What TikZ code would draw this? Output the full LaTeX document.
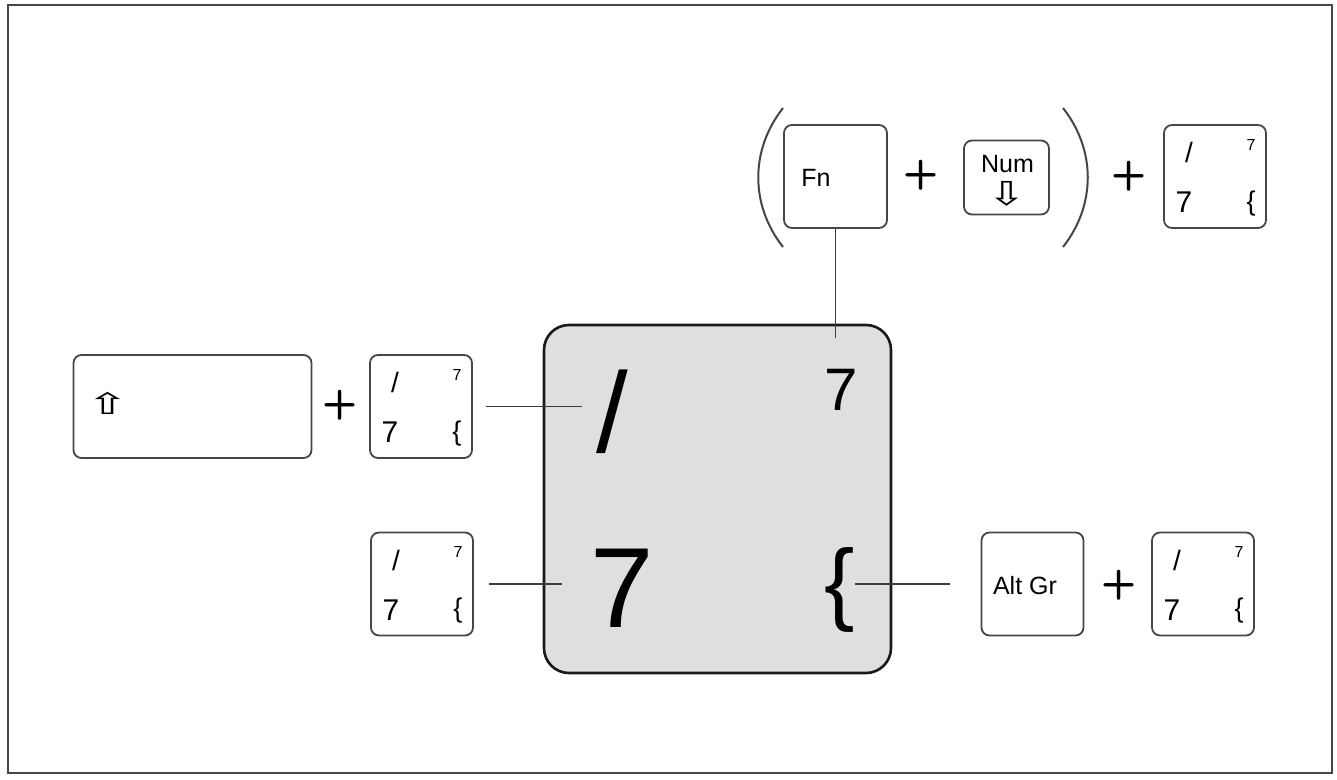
\documentclass[tikz,border=0pt]{standalone}
\usepackage{fontspec}
\setmainfont{Liberation Sans}
\newfontfamily\symfont{DejaVu Sans}
\usetikzlibrary{calc, positioning}

\definecolor{keyline}{RGB}{70,70,70}
\definecolor{keyfill}{RGB}{223,223,223}
\definecolor{linkgray}{RGB}{60,60,60}

\tikzset{
  keycap/.style={draw=keyline, line width=1.8pt, rounded corners=8pt, fill=white, inner sep=0pt},
  smallkey/.style={keycap, minimum width=102pt, minimum height=103pt},
  glyph/.style={inner sep=0pt, font=\fontsize{#1}{#1}\selectfont},
  plussign/.style={inner sep=0pt, font=\sffamily\bfseries\fontsize{41}{41}\selectfont},
  link/.style={draw=linkgray, line width=1.5pt}
}

% kleine Taste mit den vier Zeichen / 7 7 {
\newcommand{\numpadkey}[3]{%
  \node[smallkey] (#1) at (#2,#3) {};
  \node[glyph=28] (#1-sl) at ($(#1)+(-26,-24)$) {/};
  \node[glyph=16] (#1-up) at ($(#1)+(36,-32)$) {7};
  \node[glyph=30] (#1-sv) at ($(#1)+(-31,26)$) {7};
  \node[glyph=27] (#1-br) at ($(#1)+(36,27)$) {\{};
}

\begin{document}
\begin{tikzpicture}[x=1pt, y=-1pt]
  \useasboundingbox (0,0) rectangle (1337,779);
  % Rahmen
  \draw[keyline, line width=2pt] (8,5) rectangle (1332,773);

  % grosse Taste in der Mitte
  \node[draw=black!90, fill=keyfill, line width=2.6pt, rounded corners=25pt,
        minimum width=347pt, minimum height=348pt] (bigkey) at (717.5,499) {};
  \node[glyph=114] (bigslash) at (612,412) {/};
  \node[glyph=114] (big7) at (622,588) {7};
  \node[glyph=60] (top7) at (841,389.5) {7};
  \node[glyph=91] (bigbrace) at (840,590) {\{};

  % links: Umschalt + Taste
  \node[keycap, minimum width=238pt, minimum height=103pt] (shiftkey) at (192.5,406.5) {};
  \node[inner sep=0pt, font=\symfont\fontsize{31}{31}\selectfont] (shiftarrow) at (107.5,403.5) {\scalebox{1.65}[0.95]{⇧}};
  \node[plussign] (plusA) at (340,405) {+};
  \numpadkey{kA}{421}{406.5}
  \numpadkey{kB}{422}{584}

  % rechts: Alt Gr + Taste
  \node[keycap, minimum width=102pt, minimum height=103pt] (altgr) at (1032.5,584) {};
  \node[glyph=25] (altgrtext) at (1025,586) {Alt Gr};
  \node[plussign] (plusB) at (1119.5,585) {+};
  \numpadkey{kC}{1203}{584}

  % oben: ( Fn + Num ) + Taste
  \draw[keyline, line width=2pt] (783,108) .. controls (750,150) and (750,205) .. (783,247);
  \node[keycap, minimum width=103pt, minimum height=103pt] (fnkey) at (835.5,176.5) {};
  \node[glyph=25] (fntext) at (816,178) {Fn};
  \node[plussign] (plusC) at (921,175) {+};
  \node[keycap, minimum width=85pt, minimum height=74pt] (numkey) at (1006.5,177.5) {};
  \node[glyph=25] (numtext) at (1007.5,164.5) {Num};
  \node[inner sep=0pt, font=\symfont\fontsize{30}{30}\selectfont] (numarrow) at (1007,194) {\scalebox{1.55}[1.1]{⇩}};
  \draw[keyline, line width=2pt] (1063,108) .. controls (1096,150) and (1096,205) .. (1063,247);
  \node[plussign] (plusD) at (1129,176.5) {+};
  \numpadkey{kD}{1215}{176.5}

  % Verbindungslinien
  \draw[link, shorten >=31pt] (fnkey.south) -- (fnkey.south |- top7.north);
  \draw[link, shorten <=13pt, shorten >=14pt] (kA.east) -- (kA.east -| bigslash.west);
  \draw[link, shorten <=15pt, shorten >=28pt] (kB.east) -- (kB.east -| big7.west);
  \draw[link, shorten >=31pt] (altgr.west -| bigbrace.east) -- (altgr.west);
\end{tikzpicture}
\end{document}
